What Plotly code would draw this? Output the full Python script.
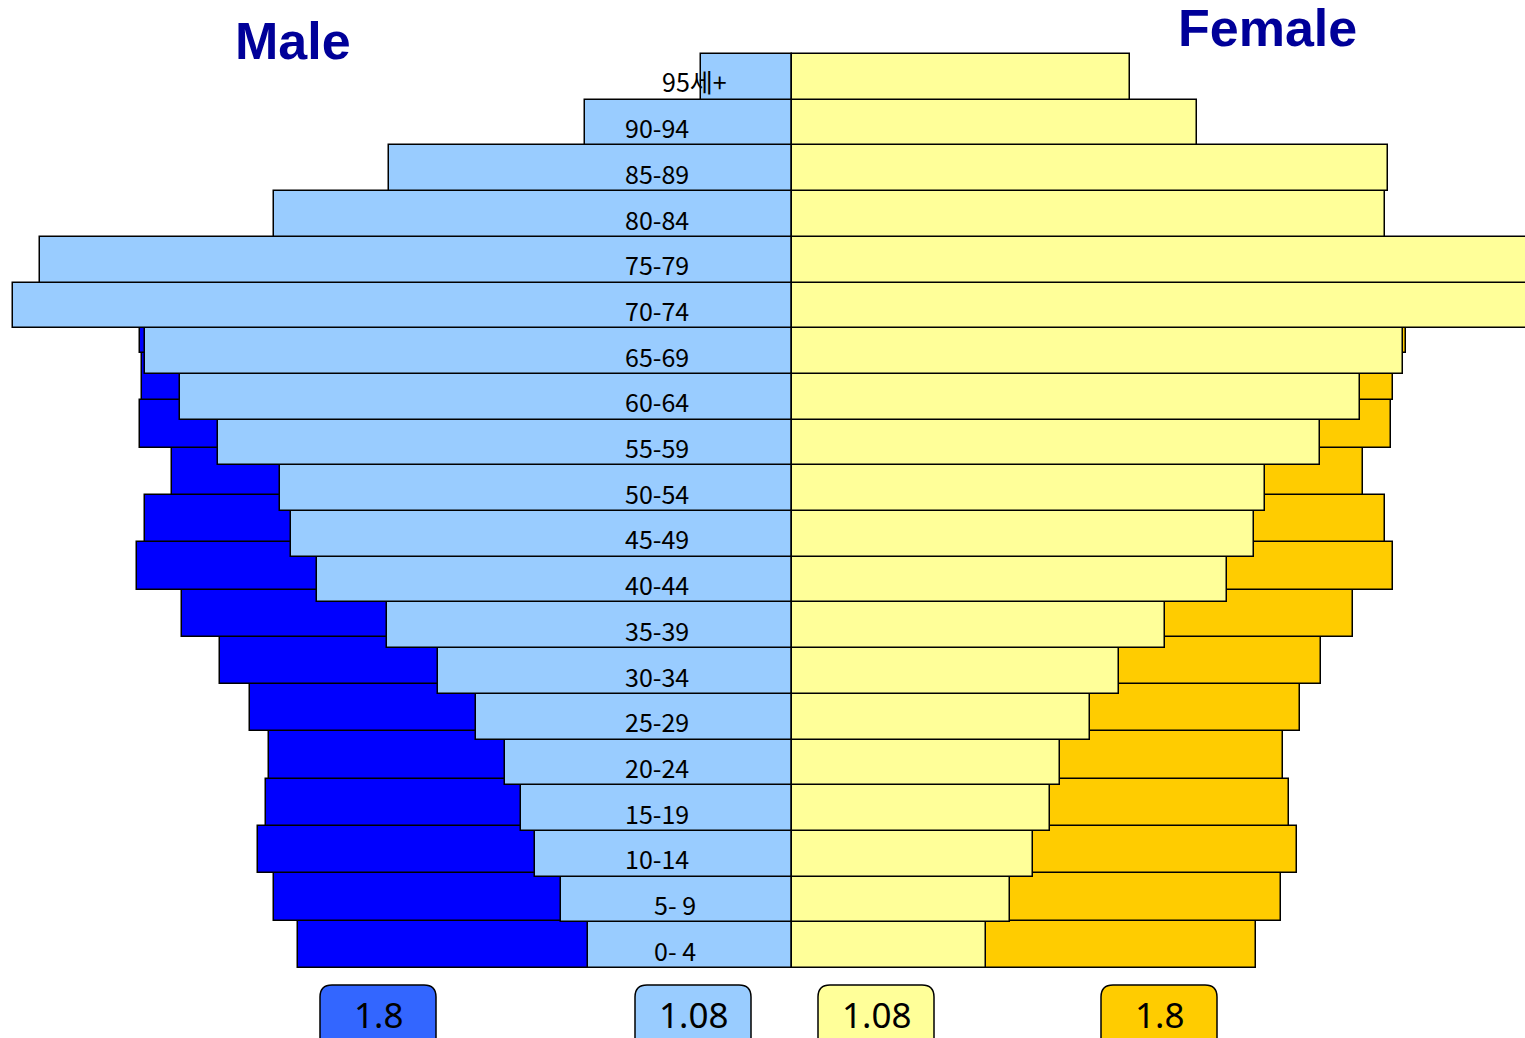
import plotly.graph_objects as go

# age groups, bottom to top
ages = ["0- 4", "5- 9", "10-14", "15-19", "20-24", "25-29", "30-34", "35-39",
        "40-44", "45-49", "50-54", "55-59", "60-64", "65-69", "70-74", "75-79",
        "80-84", "85-89", "90-94", "95세+"]

# scenario 1.08 (front bars)
male_108 = [204, 231, 257, 271, 287, 316, 354, 405, 475, 501, 512, 574,
            612, 647, 779, 752, 518, 403, 207, 91]
female_108 = [194, 218, 241, 258, 268, 298, 327, 373, 435, 462, 473, 528,
              568, 611, 810, 790, 593, 596, 405, 338]

# scenario 1.8 (back bars)
male_18 = [494, 518, 534, 526, 523, 542, 572, 610, 655, 647, 620, 652,
           650, 652, 640, 490, 380, 180, 60, None]
female_18 = [464, 489, 505, 497, 491, 508, 529, 561, 601, 593, 571, 599,
             601, 614, 640, 560, 560, 300, 150, None]

legend_labels = ["1.8", "1.08", "1.08", "1.8"]

W, H = 1525, 1038
CX = 792  # pixel of the zero line

C_DARK = "#0000FF"
C_LIGHT = "#99CCFF"
C_YEL = "#FFFF99"
C_ORA = "#FFCC00"
C_BOX = ["#3366FF", C_LIGHT, C_YEL, C_ORA]

idx = list(range(len(ages)))
line = dict(color="black", width=1.5)


def neg(vals):
    return [None if v is None else -v for v in vals]


fig = go.Figure()

# back bars on y (base axis), front bars on y2 (drawn above)
fig.add_trace(go.Bar(y=idx, x=neg(male_18), orientation="h", width=1,
                     marker=dict(color=C_DARK, line=line), yaxis="y"))
fig.add_trace(go.Bar(y=idx, x=female_18, orientation="h", width=1,
                     marker=dict(color=C_ORA, line=line), yaxis="y"))
fig.add_trace(go.Bar(y=idx, x=neg(male_108), orientation="h", width=1,
                     marker=dict(color=C_LIGHT, line=line), yaxis="y2"))
fig.add_trace(go.Bar(y=idx, x=female_108, orientation="h", width=1,
                     marker=dict(color=C_YEL, line=line), yaxis="y2"))

# row heights differ: front rows 45.7px, back rows 47.3px, both end at 968px
def yrange(row_px, bottom_px=968):
    lo = -0.5 - (H - bottom_px) / row_px
    hi = -0.5 + bottom_px / row_px
    return [lo, hi]


label_x = {"95세+": -98, "5- 9": -117, "0- 4": -117}
annotations = []
for i, a in enumerate(ages):
    annotations.append(dict(
        x=label_x.get(a, -135), y=i - 0.1, xref="x", yref="y2",
        text=a, showarrow=False, xanchor="center", yanchor="middle",
        font=dict(family="Noto Sans CJK KR, Noto Sans, sans-serif",
                  size=25, color="black")))

title_font = dict(family="Liberation Sans, Arial, sans-serif",
                  size=52, color="#000099")
annotations.append(dict(x=293 - CX, y=1 - 41 / H, xref="x", yref="paper",
                        text="<b>Male</b>", showarrow=False, yanchor="middle",
                        font=title_font))
annotations.append(dict(x=1267 - CX, y=1 - 28 / H, xref="x", yref="paper",
                        text="<b>Female</b>", showarrow=False, yanchor="middle",
                        font=title_font))

# rounded legend boxes at the bottom
box_cx = [378, 693, 876, 1159]
shapes = []
bw, r = 116, 12
top, bot = 985, 1070
for cxp, col, lab in zip(box_cx, C_BOX, legend_labels):
    x0, x1 = cxp - bw / 2 - CX, cxp + bw / 2 - CX
    yt, yb = 1 - top / H, 1 - bot / H
    ry = r / H
    path = (f"M {x0},{yb} L {x0},{yt - ry} Q {x0},{yt} {x0 + r},{yt} "
            f"L {x1 - r},{yt} Q {x1},{yt} {x1},{yt - ry} L {x1},{yb} Z")
    shapes.append(dict(type="path", path=path, xref="x", yref="paper",
                       fillcolor=col, line=dict(color="black", width=1.5),
                       layer="above"))
    annotations.append(dict(x=cxp - CX, y=1 - 1014 / H, xref="x", yref="paper",
                            text=lab, showarrow=False, yanchor="middle",
                            font=dict(family="Noto Sans, sans-serif", size=35,
                                      color="black")))

fig.update_layout(
    width=W, height=H,
    margin=dict(l=0, r=0, t=0, b=0),
    paper_bgcolor="white", plot_bgcolor="white",
    barmode="overlay", bargap=0, showlegend=False,
    xaxis=dict(range=[-CX, W - CX], visible=False, fixedrange=True),
    yaxis=dict(range=yrange(47.31), visible=False),
    yaxis2=dict(range=yrange(45.7), visible=False, overlaying="y"),
    annotations=annotations,
    shapes=shapes,
)

fig.write_html("out.html", config={"displayModeBar": False},
               post_script="document.body.style.margin='0';")
